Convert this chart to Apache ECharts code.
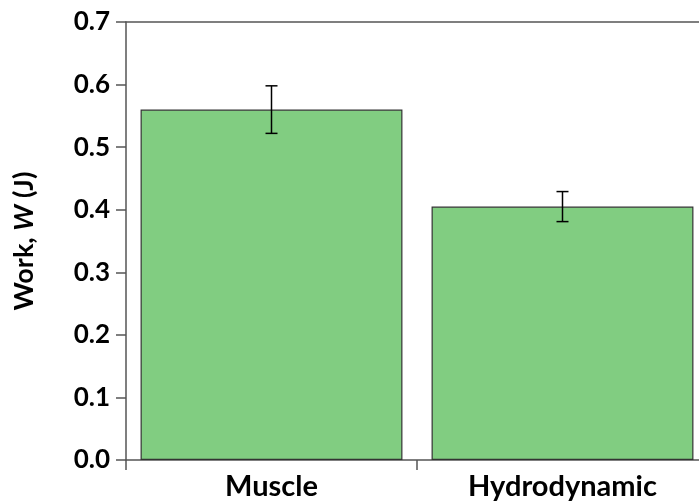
<!DOCTYPE html>
<html>
<head>
<meta charset="utf-8">
<script src="https://cdn.jsdelivr.net/npm/echarts@6/dist/echarts.min.js"></script>
<style>html,body{margin:0;padding:0;background:#fff;overflow:hidden;width:699px;height:504px;}#c{width:708px;height:504px;}</style>
</head>
<body>
<div id="c"></div>
<script>
const categories = ['Muscle', 'Hydrodynamic'];
const workValues = [0.56, 0.405];
const workErrors = [0.038, 0.024];
const yTicks = [0, 0.1, 0.2, 0.3, 0.4, 0.5, 0.6, 0.7];

const chart = echarts.init(document.getElementById('c'));
const font = 'Lato, "Open Sans", sans-serif';
const axisColor = '#555';

chart.setOption({
  animation: false,
  backgroundColor: '#fff',
  grid: { left: 126, top: 22, right: 0, bottom: 44, containLabel: false },
  xAxis: [{
    type: 'category',
    data: categories,
    position: 'bottom',
    axisLine: { show: true, lineStyle: { color: axisColor, width: 1.5 } },
    axisTick: { show: true, length: 10, alignWithLabel: false, lineStyle: { color: axisColor, width: 1.5 } },
    axisLabel: { color: '#000', fontFamily: font, fontSize: 29, fontWeight: 'bold', margin: 12 },
    splitLine: { show: false }
  }, {
    type: 'category',
    data: categories,
    position: 'top',
    axisLine: { show: true, onZero: false, lineStyle: { color: axisColor, width: 1.5 } },
    axisTick: { show: false },
    axisLabel: { show: false },
    splitLine: { show: false }
  }],
  yAxis: {
    type: 'value',
    min: yTicks[0],
    max: yTicks[yTicks.length - 1],
    interval: 0.1,
    name: '{n|Work, }{i|W}{n| (J)}',
    nameLocation: 'middle',
    nameGap: 88,
    nameRotate: 90,
    nameTextStyle: {
      rich: {
        n: { fontFamily: font, fontSize: 27, color: '#000', fontWeight: 'bold' },
        i: { fontFamily: font, fontSize: 27, color: '#000', fontStyle: 'italic', fontWeight: 'bold' }
      }
    },
    axisLine: { show: true, lineStyle: { color: axisColor, width: 1.5 } },
    axisTick: { show: true, length: 10, lineStyle: { color: axisColor, width: 1.5 } },
    axisLabel: { color: '#000', fontFamily: font, fontSize: 26, fontWeight: 'bold', margin: 16, formatter: v => v.toFixed(1) },
    splitLine: { show: false }
  },
  series: [{
    type: 'bar',
    data: workValues,
    barCategoryGap: '10%',
    itemStyle: { color: '#81CD81', borderColor: '#333', borderWidth: 1.2 },
    z: 2
  }, {
    type: 'custom',
    data: categories.map((c, i) => [i, workValues[i] - workErrors[i], workValues[i] + workErrors[i]]),
    z: 5,
    renderItem: function (params, api) {
      const lo = api.coord([api.value(0), api.value(1)]);
      const hi = api.coord([api.value(0), api.value(2)]);
      const hw = 6;
      const style = { stroke: '#000', lineWidth: 1.5 };
      return {
        type: 'group',
        children: [
          { type: 'line', shape: { x1: hi[0], y1: hi[1], x2: lo[0], y2: lo[1] }, style: style },
          { type: 'line', shape: { x1: hi[0] - hw, y1: hi[1], x2: hi[0] + hw, y2: hi[1] }, style: style },
          { type: 'line', shape: { x1: lo[0] - hw, y1: lo[1], x2: lo[0] + hw, y2: lo[1] }, style: style }
        ]
      };
    }
  }]
});
</script>
</body>
</html>
